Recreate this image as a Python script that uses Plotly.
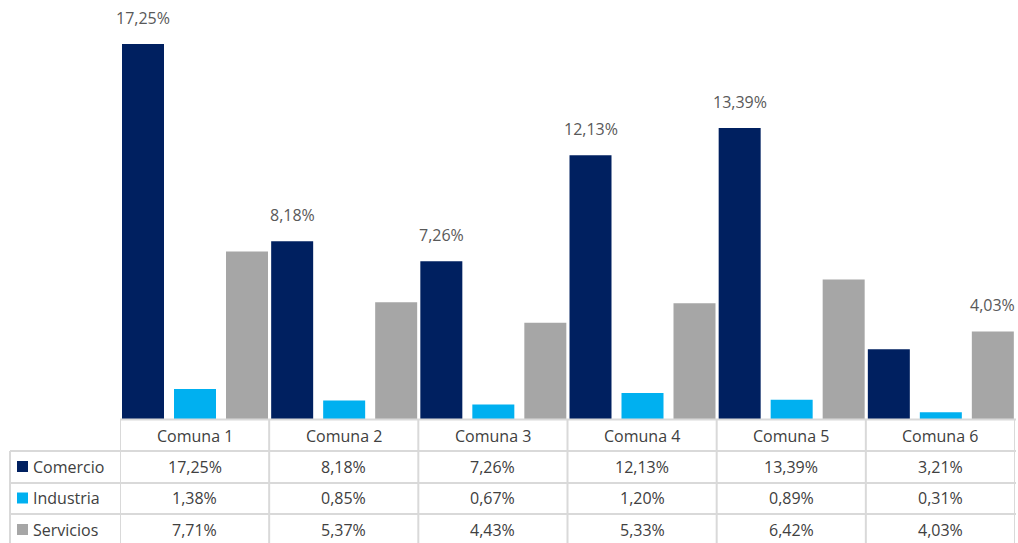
import plotly.graph_objects as go

categories = ["Comuna 1", "Comuna 2", "Comuna 3", "Comuna 4", "Comuna 5", "Comuna 6"]
series_names = ["Comercio", "Industria", "Servicios"]
comercio = [17.25, 8.18, 7.26, 12.13, 13.39, 3.21]
industria = [1.38, 0.85, 0.67, 1.20, 0.89, 0.31]
servicios = [7.71, 5.37, 4.43, 5.33, 6.42, 4.03]
colors = ["#002060", "#00B0F0", "#A6A6A6"]

W, H = 1018, 543
FONT = "Open Sans"
TXT = "#404040"
FS = 16
series_vals = [comercio, industria, servicios]

def fmt(v):
    return f"{v:.2f}".replace(".", ",") + "%"

group_max = [max(s[i] for s in series_vals) for i in range(len(categories))]

x0, x1 = 120, 1015
y_base = 419
cat_px = (x1 - x0) / len(categories)
bar_w = 42 / cat_px
offsets = [-0.5 + 2 / cat_px, -0.5 + 54 / cat_px, -0.5 + 106 / cat_px]

fig = go.Figure()
for name, vals, col, off in zip(series_names, series_vals, colors, offsets):
    fig.add_trace(go.Bar(
        x=categories, y=vals, name=name, marker_color=col,
        width=bar_w, offset=off,
        marker_line_width=0, hoverinfo="skip",
    ))

px_x = lambda p: p / W
px_y = lambda p: 1 - p / H

fig.update_layout(
    width=W, height=H, margin=dict(l=0, r=0, t=0, b=0),
    paper_bgcolor="white", plot_bgcolor="white",
    barmode="overlay",
    showlegend=False,
    font=dict(family=FONT, color=TXT, size=FS),
    xaxis=dict(domain=[px_x(x0), px_x(x1)], range=[-0.5, len(categories) - 0.5],
               showticklabels=False, showline=False,
               showgrid=False, zeroline=False, ticks=""),
    yaxis=dict(domain=[px_y(y_base), 1], range=[0, y_base / 21.74],
               showticklabels=False, showgrid=False, zeroline=False, showline=False),
)

grid = dict(color="#D9D9D9", width=2)
shapes = []
shapes.append(dict(type="line", xref="paper", yref="paper", x0=px_x(120), x1=px_x(1016),
                   y0=px_y(419.5), y1=px_y(419.5), line=grid))
for yy in [451, 483, 514]:
    shapes.append(dict(type="line", xref="paper", yref="paper", x0=px_x(10), x1=px_x(1016),
                       y0=px_y(yy), y1=px_y(yy), line=grid))
shapes.append(dict(type="line", xref="paper", yref="paper", x0=px_x(10), x1=px_x(10),
                   y0=px_y(451), y1=px_y(543), line=grid))
for i in range(len(categories) + 1):
    shapes.append(dict(type="line", xref="x", yref="paper", x0=i - 0.5, x1=i - 0.5,
                       y0=px_y(419), y1=px_y(543), line=grid))
row_centers = [466.5, 498, 529.5]
for yc, col in zip(row_centers, colors):
    shapes.append(dict(type="rect", xref="paper", yref="paper", x0=px_x(17), x1=px_x(28),
                       y0=px_y(yc + 5.5), y1=px_y(yc - 5.5), fillcolor=col, line_width=0))
fig.update_layout(shapes=shapes)

ann = []
for s_idx, vals in enumerate(series_vals):
    for i, v in enumerate(vals):
        if v == group_max[i]:
            ann.append(dict(x=i + offsets[s_idx] + bar_w / 2, xref="x", y=v, yref="y",
                            text=fmt(v), showarrow=False, xanchor="center", yanchor="bottom",
                            yshift=13, font=dict(size=FS, color="#595959", family=FONT)))
for c in categories:
    ann.append(dict(x=c, xref="x", y=px_y(436), yref="paper", text=c, showarrow=False,
                    xanchor="center", yanchor="middle",
                    font=dict(size=FS, color=TXT, family=FONT)))
for yc, name, vals in zip(row_centers, series_names, series_vals):
    ann.append(dict(x=px_x(31), xref="paper", y=px_y(yc), yref="paper", text=name,
                    showarrow=False, xanchor="left", yanchor="middle",
                    font=dict(size=FS, color=TXT, family=FONT)))
    for c, v in zip(categories, vals):
        ann.append(dict(x=c, xref="x", y=px_y(yc), yref="paper", text=fmt(v),
                        showarrow=False, xanchor="center", yanchor="middle",
                        font=dict(size=FS, color=TXT, family=FONT)))
fig.update_layout(annotations=ann)

fig.write_html("out.html", config={"displayModeBar": False},
               post_script="document.body.style.margin='0';document.body.style.overflow='hidden';")
